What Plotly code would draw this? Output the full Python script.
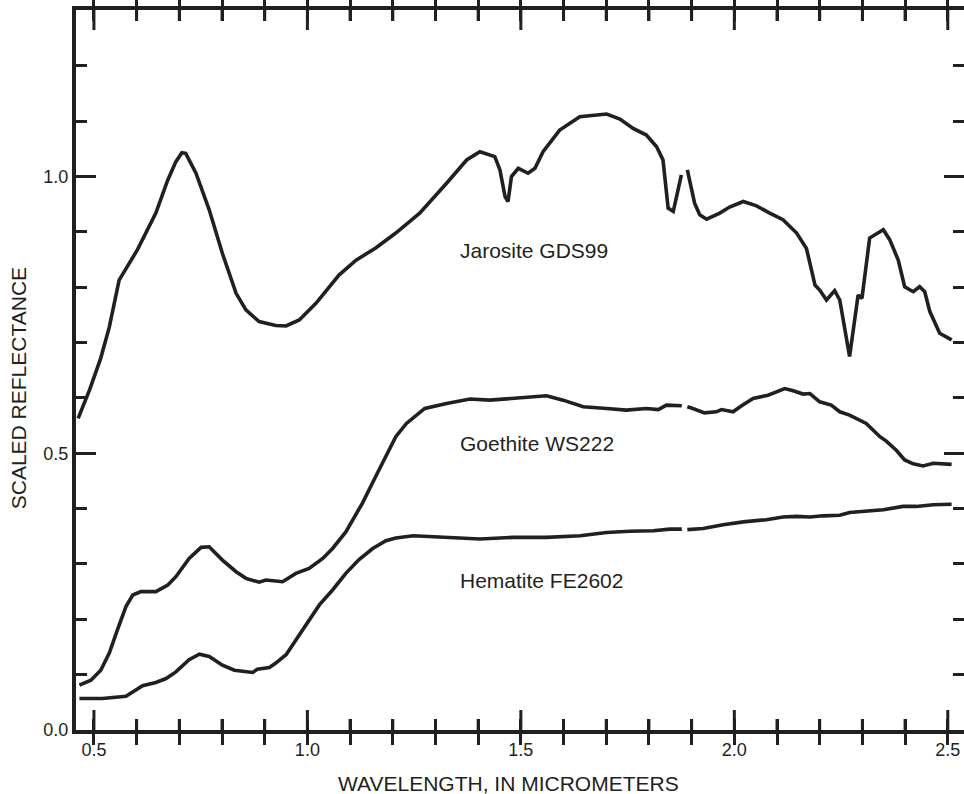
import plotly.graph_objects as go

# ---- data ----
jar_x = [0.463, 0.490, 0.516, 0.536, 0.559, 0.583, 0.602, 0.645, 0.673, 0.692, 0.706, 0.715,
         0.739, 0.770, 0.801, 0.833, 0.856, 0.887, 0.926, 0.950, 0.981, 1.020, 1.074, 1.114,
         1.160, 1.207, 1.263, 1.326, 1.373, 1.404, 1.439, 1.451, 1.463, 1.470, 1.478, 1.494,
         1.517, 1.533, 1.552, 1.591, 1.638, 1.701, 1.732, 1.763, 1.794, 1.818, 1.833, 1.845,
         1.857, 1.876, 1.883, 1.890, 1.907, 1.919, 1.935, 1.966, 1.989, 2.021, 2.052, 2.083,
         2.114, 2.146, 2.169, 2.189, 2.200, 2.216, 2.235, 2.247, 2.270, 2.290, 2.299, 2.317,
         2.349, 2.364, 2.384, 2.399, 2.419, 2.434, 2.446, 2.458, 2.481, 2.509]
jar_y = [0.563, 0.615, 0.672, 0.728, 0.813, 0.843, 0.868, 0.934, 0.994, 1.027, 1.043, 1.042,
         1.006, 0.940, 0.861, 0.789, 0.759, 0.738, 0.731, 0.730, 0.741, 0.771, 0.822, 0.849,
         0.871, 0.898, 0.934, 0.988, 1.030, 1.045, 1.036, 1.012, 0.964, 0.955, 1.000, 1.015,
         1.006, 1.015, 1.045, 1.084, 1.108, 1.113, 1.104, 1.087, 1.075, 1.054, 1.030, 0.943,
         0.937, 1.003, None, 1.012, 0.952, 0.931, 0.923, 0.934, 0.945, 0.955, 0.947, 0.934,
         0.922, 0.898, 0.870, 0.804, 0.795, 0.777, 0.794, 0.777, 0.675, 0.786, 0.780, 0.889,
         0.904, 0.886, 0.849, 0.801, 0.792, 0.801, 0.792, 0.756, 0.717, 0.705]

goe_x = [0.466, 0.493, 0.516, 0.536, 0.555, 0.575, 0.591, 0.610, 0.645, 0.673, 0.692, 0.723,
         0.751, 0.770, 0.801, 0.833, 0.856, 0.887, 0.903, 0.942, 0.973, 1.004, 1.036, 1.059,
         1.090, 1.129, 1.160, 1.184, 1.207, 1.232, 1.275, 1.326, 1.381, 1.427, 1.482, 1.560,
         1.599, 1.646, 1.701, 1.747, 1.794, 1.822, 1.841, 1.877, 1.883, 1.890, 1.903, 1.930,
         1.958, 1.970, 1.997, 2.017, 2.044, 2.079, 2.099, 2.118, 2.138, 2.161, 2.177, 2.200,
         2.227, 2.247, 2.270, 2.309, 2.341, 2.356, 2.380, 2.399, 2.419, 2.442, 2.466, 2.509]
goe_y = [0.081, 0.090, 0.108, 0.139, 0.181, 0.223, 0.244, 0.250, 0.250, 0.262, 0.277, 0.310,
         0.330, 0.331, 0.307, 0.286, 0.274, 0.267, 0.271, 0.268, 0.283, 0.292, 0.310, 0.328,
         0.358, 0.410, 0.458, 0.494, 0.530, 0.554, 0.581, 0.590, 0.598, 0.596, 0.599, 0.604,
         0.596, 0.584, 0.581, 0.578, 0.581, 0.579, 0.587, 0.586, None, 0.584, 0.581, 0.573,
         0.575, 0.579, 0.575, 0.586, 0.599, 0.605, 0.611, 0.617, 0.613, 0.607, 0.608, 0.593,
         0.587, 0.575, 0.569, 0.554, 0.530, 0.522, 0.505, 0.488, 0.481, 0.477, 0.482, 0.480]

hem_x = [0.466, 0.520, 0.575, 0.591, 0.614, 0.645, 0.669, 0.692, 0.723, 0.747, 0.770, 0.801,
         0.829, 0.872, 0.883, 0.911, 0.926, 0.950, 0.973, 0.996, 1.028, 1.059, 1.090, 1.121,
         1.153, 1.184, 1.207, 1.248, 1.326, 1.404, 1.482, 1.560, 1.639, 1.701, 1.755, 1.810,
         1.849, 1.877, 1.883, 1.890, 1.927, 1.974, 2.021, 2.075, 2.114, 2.146, 2.177, 2.208,
         2.247, 2.270, 2.309, 2.349, 2.395, 2.426, 2.466, 2.509]
hem_y = [0.057, 0.057, 0.061, 0.069, 0.080, 0.086, 0.093, 0.105, 0.127, 0.137, 0.133, 0.117,
         0.108, 0.104, 0.110, 0.113, 0.121, 0.136, 0.163, 0.190, 0.226, 0.253, 0.283, 0.308,
         0.328, 0.342, 0.347, 0.351, 0.348, 0.345, 0.348, 0.348, 0.351, 0.357, 0.359, 0.360,
         0.363, 0.363, None, 0.362, 0.364, 0.371, 0.376, 0.380, 0.385, 0.386, 0.385, 0.387,
         0.388, 0.393, 0.396, 0.398, 0.404, 0.404, 0.407, 0.408]

labels = ["Jarosite GDS99", "Goethite WS222", "Hematite FE2602"]
label_x = [1.352, 1.352, 1.352]
label_y = [0.866, 0.518, 0.271]

# axis ticks
x_major = [0.5, 1.0, 1.5, 2.0, 2.5]
x_minor = [0.5, 0.6, 0.7, 0.8, 0.9, 1.0, 1.1, 1.2, 1.3, 1.4, 1.5, 1.6, 1.7, 1.8, 1.9,
           2.0, 2.1, 2.2, 2.3, 2.4, 2.5]
y_major = [0.0, 0.5, 1.0]
y_minor = [0.0, 0.1, 0.2, 0.3, 0.4, 0.5, 0.6, 0.7, 0.8, 0.9, 1.0, 1.1, 1.2]


def is_major(v, majors):
    return any(abs(v - m) < 1e-9 for m in majors)


def ticktext_for(vals, majors):
    return [f"{v:.1f}" if is_major(v, majors) else "" for v in vals]


INK = "#231f20"
FONT = "Liberation Sans, Arial, sans-serif"
X_RANGE = [0.458, 2.538]
Y_RANGE = [0, 1.301]
PLOT_H = 720  # plot-area height in px
MAJOR_LEN = 20
MINOR_LEN = 11

fig = go.Figure()
for xs, ys, name in [(jar_x, jar_y, labels[0]), (goe_x, goe_y, labels[1]), (hem_x, hem_y, labels[2])]:
    fig.add_trace(go.Scatter(x=xs, y=ys, mode="lines", name=name,
                             line=dict(color=INK, width=3.6), connectgaps=False,
                             hoverinfo="skip"))
# empty trace so the overlaid long-tick y axis is drawn
fig.add_trace(go.Scatter(x=[], y=[], xaxis="x", yaxis="y2", showlegend=False, hoverinfo="skip"))

# x-axis tick marks (bottom and top), placed at the tick values on the x scale
for v in x_minor:
    frac = (MAJOR_LEN if is_major(v, x_major) else MINOR_LEN) / PLOT_H
    fig.add_shape(type="line", xref="x", yref="paper", x0=v, x1=v, y0=-0.003, y1=frac,
                  line=dict(color=INK, width=3), layer="above")
    fig.add_shape(type="line", xref="x", yref="paper", x0=v, x1=v, y0=1.003, y1=1 - frac,
                  line=dict(color=INK, width=3), layer="above")

for t, lx, ly in zip(labels, label_x, label_y):
    fig.add_annotation(x=lx, y=ly, xref="x", yref="y", text=t, showarrow=False,
                       xanchor="left", yanchor="middle",
                       font=dict(family=FONT, size=21, color=INK))

fig.add_annotation(x=0.4865, y=-0.074, xref="paper", yref="paper",
                   text="WAVELENGTH, IN MICROMETERS", showarrow=False,
                   xanchor="center", yanchor="middle",
                   font=dict(family=FONT, size=21, color=INK))
fig.add_annotation(x=-0.065, y=0.475, xref="paper", yref="paper",
                   text="SCALED REFLECTANCE", showarrow=False, textangle=-90,
                   xanchor="center", yanchor="middle",
                   font=dict(family=FONT, size=21, color=INK))

line_common = dict(showline=True, linecolor=INK, linewidth=4, mirror="allticks",
                   showgrid=False, zeroline=False, tickcolor=INK, tickwidth=3,
                   ticks="inside")
tick_font = dict(family=FONT, size=18, color=INK)

fig.update_layout(
    xaxis=dict(range=X_RANGE, tickmode="array", tickvals=x_minor,
               ticktext=ticktext_for(x_minor, x_major),
               ticklen=MINOR_LEN, tickfont=tick_font, **line_common),
    yaxis=dict(range=Y_RANGE, tickmode="array", tickvals=y_minor,
               ticktext=ticktext_for(y_minor, y_major),
               ticklen=MINOR_LEN, tickfont=tick_font, **line_common),
    yaxis2=dict(range=Y_RANGE, overlaying="y", anchor="x", side="left",
                tickmode="array", tickvals=y_major, ticklen=MAJOR_LEN, showticklabels=False,
                **line_common),
    width=964, height=794, showlegend=False,
    margin=dict(l=76, r=0, t=10, b=64, autoexpand=False),
    paper_bgcolor="white", plot_bgcolor="white",
)

fig.write_html("out.html", config={"displayModeBar": False},
               post_script="document.body.style.margin='0';document.body.style.overflow='hidden';")
